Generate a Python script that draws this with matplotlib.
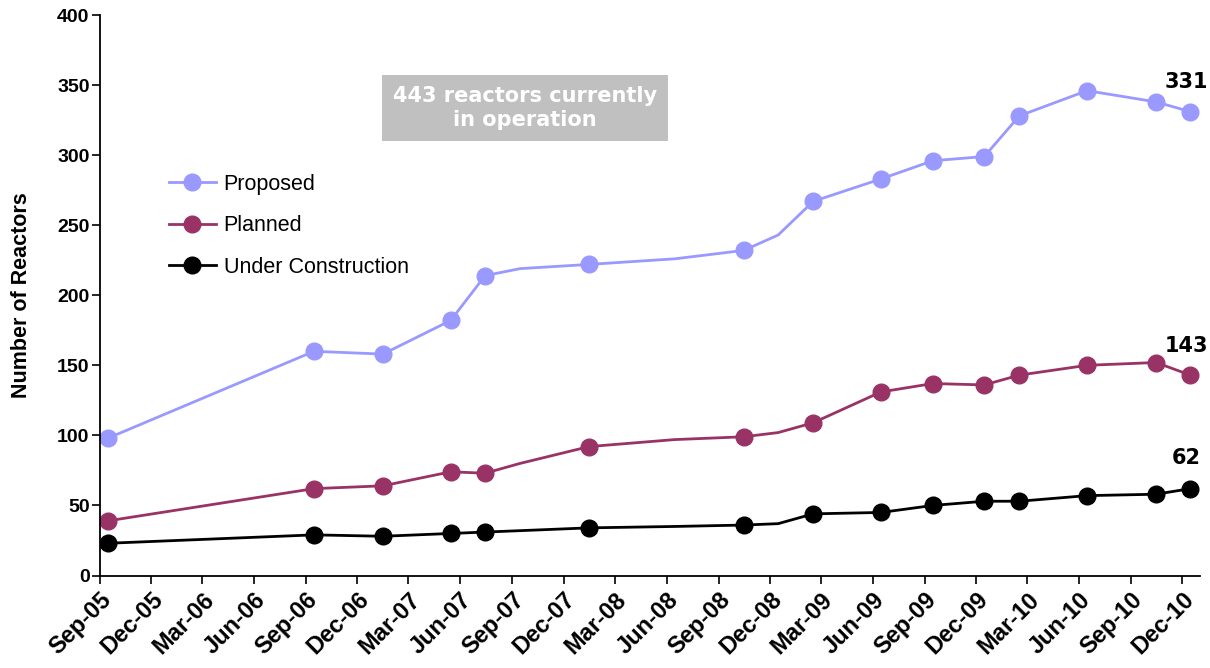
import matplotlib
matplotlib.use("Agg")
import matplotlib.pyplot as plt
import matplotlib.dates as mdates
import pandas as pd

# report dates (mid-month); some points are drawn without a marker
dates = pd.to_datetime([
    "2005-09-15", "2006-09-15", "2007-01-15", "2007-05-15", "2007-07-15",
    "2007-09-15", "2008-01-15", "2008-06-15", "2008-10-15", "2008-12-15",
    "2009-02-15", "2009-06-15", "2009-09-15", "2009-12-15", "2010-02-15",
    "2010-06-15", "2010-10-15", "2010-12-15",
])
marked = [True, True, True, True, True,
          False, True, False, True, False,
          True, True, True, True, True,
          True, True, True]

proposed = [98, 160, 158, 182, 214, 219, 222, 226, 232, 243,
            267, 283, 296, 299, 328, 346, 338, 331]
planned = [39, 62, 64, 74, 73, 80, 92, 97, 99, 102,
           109, 131, 137, 136, 143, 150, 152, 143]
under_construction = [23, 29, 28, 30, 31, 32, 34, 35, 36, 37,
                      44, 45, 50, 53, 53, 57, 58, 62]

series_names = ["Proposed", "Planned", "Under Construction"]
series_colors = ["#9999FF", "#993366", "#000000"]

plt.rcParams["font.family"] = ["Liberation Sans", "DejaVu Sans"]

fig = plt.figure(figsize=(12.1, 6.68), dpi=100)
ax = fig.add_axes([100 / 1210, 1 - 575.5 / 668, 1100 / 1210, 560.5 / 668])

for name, vals, col in zip(series_names,
                           [proposed, planned, under_construction],
                           series_colors):
    ax.plot(dates, vals, color=col, lw=2.0, marker="o", markersize=12,
            markevery=marked, label=name, solid_joinstyle="round")

# end labels
for vals, dy in zip([proposed, planned, under_construction], [14, 14, 15]):
    ax.annotate(str(vals[-1]), (dates[-1], vals[-1]), xytext=(-3, dy),
                textcoords="offset points", ha="center", va="bottom",
                fontsize=15, fontweight="bold", color="black",
                family="DejaVu Sans")

ax.text(525 / 1210, 1 - 108 / 668, "443 reactors currently\nin operation",
        transform=fig.transFigure, ha="center", va="center",
        fontsize=15, fontweight="bold", color="white", linespacing=1.3,
        family="DejaVu Sans",
        bbox=dict(boxstyle="square,pad=0.52", fc="#C0C0C0", ec="none"))

ax.set_ylim(0, 400)
ax.set_yticks(range(0, 401, 50))
ax.set_xlim(pd.Timestamp("2005-09-01"), pd.Timestamp("2011-01-01"))
ax.xaxis.set_major_locator(mdates.MonthLocator(bymonth=[3, 6, 9, 12]))
ax.xaxis.set_major_formatter(mdates.DateFormatter("%b-%y"))

for s in ["top", "right"]:
    ax.spines[s].set_visible(False)
for s in ["left", "bottom"]:
    ax.spines[s].set_linewidth(1.3)

ax.tick_params(axis="both", direction="out", length=6, width=1.2)
ax.tick_params(axis="y", labelsize=14, pad=1.5)
ax.tick_params(axis="x", labelsize=17, pad=3)
for lab in ax.get_yticklabels():
    lab.set_fontweight("bold")
for lab in ax.get_xticklabels():
    lab.set_fontweight("bold")
    lab.set_rotation(45)
    lab.set_ha("right")
    lab.set_rotation_mode("anchor")

ax.set_ylabel("Number of Reactors", fontsize=15.5, fontweight="bold",
              labelpad=18)

ax.legend(loc="upper left", bbox_to_anchor=(160 / 1210, 1 - 165 / 668),
          bbox_transform=fig.transFigure, frameon=False, fontsize=15.5,
          handlelength=2.2, labelspacing=0.95, handletextpad=0.35,
          borderaxespad=0)

fig.savefig("out.png", dpi=100)
